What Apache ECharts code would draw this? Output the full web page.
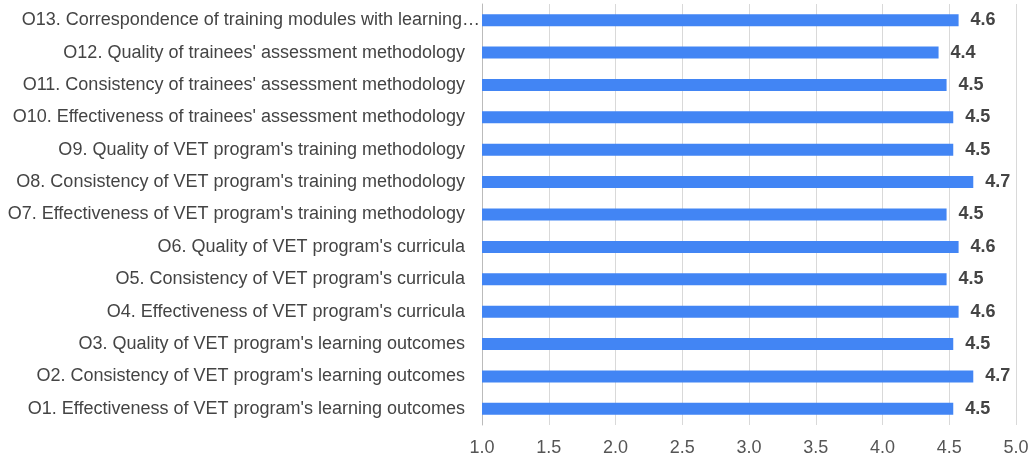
<!DOCTYPE html>
<html>
<head>
<meta charset="utf-8">
<script src="https://cdn.jsdelivr.net/npm/echarts@6/dist/echarts.min.js"></script>
<style>
  html, body { margin: 0; padding: 0; background: #fff; }
  #chart { width: 1032px; height: 457px; }
</style>
</head>
<body>
<div id="chart"></div>
<script>
// categories, bottom to top
var categories = [
  'O1. Effectiveness of VET program\'s learning outcomes',
  'O2. Consistency of VET program\'s learning outcomes',
  'O3. Quality of VET program\'s learning outcomes',
  'O4. Effectiveness of VET program\'s curricula',
  'O5. Consistency of VET program\'s curricula',
  'O6. Quality of VET program\'s curricula',
  'O7. Effectiveness of VET program\'s training methodology',
  'O8. Consistency of VET program\'s training methodology',
  'O9. Quality of VET program\'s training methodology',
  'O10. Effectiveness of trainees\' assessment methodology',
  'O11. Consistency of trainees\' assessment methodology',
  'O12. Quality of trainees\' assessment methodology',
  'O13. Correspondence of training modules with learning outcomes'
]
var scores = [4.53, 4.68, 4.53, 4.57, 4.48, 4.57, 4.48, 4.68, 4.53, 4.53, 4.48, 4.42, 4.57]
var xTicks = [1.0, 1.5, 2.0, 2.5, 3.0, 3.5, 4.0, 4.5, 5.0]

var FONT = 'Arial, "Liberation Sans", sans-serif'
var chart = echarts.init(document.getElementById('chart'))

chart.setOption({
  animation: false,
  textStyle: { fontFamily: FONT },
  grid: { left: 482, right: 16, top: 4, bottom: 30, containLabel: false },
  xAxis: {
    type: 'value',
    min: xTicks[0],
    max: xTicks[xTicks.length - 1],
    interval: 0.5,
    axisLine: { show: false },
    axisTick: { show: false },
    axisLabel: {
      margin: 14,
      fontSize: 18,
      color: '#555',
      fontFamily: FONT,
      formatter: function (v) { return v.toFixed(1) }
    },
    splitLine: { show: true, lineStyle: { color: '#d9d9d9', width: 1 } }
  },
  yAxis: {
    type: 'category',
    data: categories,
    axisLine: { show: true, lineStyle: { color: '#bbb', width: 1 } },
    axisTick: { show: false },
    axisLabel: {
      margin: 2,
      fontSize: 18,
      color: '#444',
      fontFamily: FONT,
      formatter: function (v) {
        // long label gets cut like the original
        if (v.indexOf('O13.') === 0) {
          return '{t|' + echarts.format.truncateText(v, 462, '18px ' + FONT, '…') + '}'
        }
        return '{p|' + v + '}'
      },
      rich: {
        t: { fontSize: 18, color: '#444', fontFamily: FONT },
        p: { fontSize: 18, color: '#444', fontFamily: FONT, padding: [0, 15, 0, 0] }
      }
    }
  },
  series: [
    {
      type: 'bar',
      data: scores,
      barWidth: 12,
      itemStyle: { color: '#4285f4' },
      label: {
        show: true,
        position: 'right',
        distance: 12,
        fontSize: 18,
        fontWeight: 'bold',
        color: '#444',
        fontFamily: FONT,
        formatter: function (p) { return p.value.toFixed(1) }
      }
    }
  ]
})
</script>
</body>
</html>
